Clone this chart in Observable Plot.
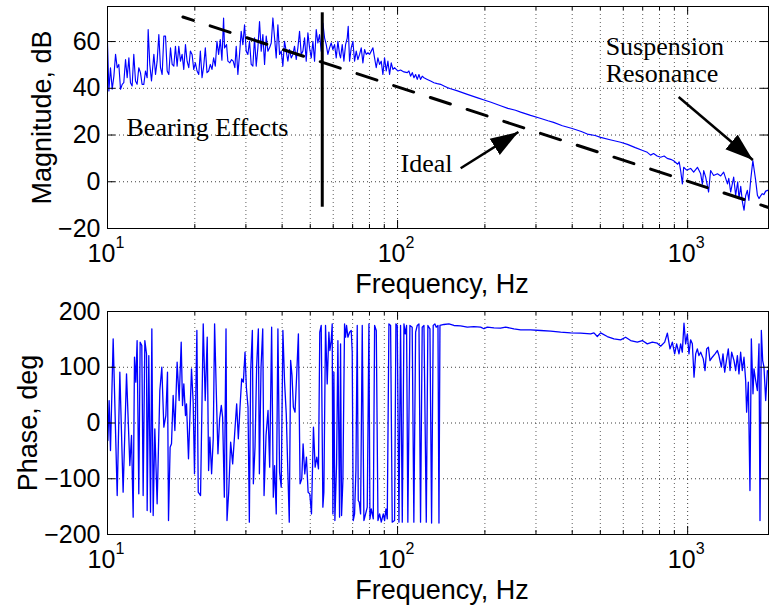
<!DOCTYPE html>
<html>
<head>
<meta charset="utf-8">
<script src="https://cdn.jsdelivr.net/npm/d3@7"></script>
<script src="https://cdn.jsdelivr.net/npm/@observablehq/plot@0.6"></script>
<style>
  html, body { margin: 0; padding: 0; background: #fff; }
  #chart { width: 769px; height: 607px; overflow: hidden; }
  #chart svg { display: block; }
</style>
</head>
<body>
<div id="chart"></div>
<script>
// ---------- axes / ticks ----------
const decadeTicks = [10, 100, 1000];
const decadeExp = ["1", "2", "3"];
const minorTicks = [20, 30, 40, 50, 60, 70, 80, 90, 200, 300, 400, 500, 600, 700, 800, 900];
const magTicks = [-20, 0, 20, 40, 60];
const phaseTicks = [-200, -100, 0, 100, 200];
const freqDomain = [10, 1900];
const magDomain = [-20, 75];
const phaseDomain = [-200, 200];

// ---------- magnitude (Hz, dB) ----------
const magnitude = [
[10.0,59.5],[10.11,38.9],[10.24,48.8],[10.38,39.6],[10.52,45.2],[10.66,54.5],[10.80,48.8],[10.94,50.2],[11.09,39.6],[11.24,41.7],
[11.38,42.4],[11.54,52.3],[11.69,44.5],[11.85,53.0],[12.00,42.4],[12.16,41.0],[12.32,54.5],[12.49,43.1],[12.65,41.7],[12.82,48.8],
[12.99,46.7],[13.16,41.7],[13.34,41.7],[13.52,47.4],[13.70,44.5],[13.81,65.1],[13.99,50.2],[14.18,43.1],[14.45,54.5],[14.64,45.9],
[14.83,51.6],[15.03,63.0],[15.23,48.8],[15.43,45.9],[15.64,62.3],[15.85,62.3],[16.06,47.4],[16.27,45.9],[16.49,57.3],[16.71,50.2],
[16.93,49.5],[17.15,58.0],[17.38,49.5],[17.61,58.0],[17.85,51.6],[18.08,54.5],[18.32,48.1],[18.57,58.7],[18.81,51.6],[19.06,48.8],
[19.31,55.9],[19.57,54.5],[19.83,48.1],[20.09,50.9],[20.36,47.4],[20.63,45.9],[20.90,55.9],[21.18,44.5],[21.46,49.5],[21.74,57.3],
[22.03,46.7],[22.32,47.4],[22.62,50.2],[22.92,48.1],[23.22,53.0],[23.53,49.5],[23.84,60.1],[24.16,54.5],[24.48,60.8],[24.80,52.0],
[25.13,70.1],[25.32,57.3],[25.73,58.7],[26.0,51.6],[26.41,50.9],[26.77,52.3],[27.12,51.6],[27.48,48.8],[27.78,58.0],[28.15,45.9],
[28.52,54.5],[28.90,64.4],[29.29,58.7],[29.68,67.2],[30.07,55.9],[30.47,54.5],[30.88,60.1],[31.29,50.2],[31.71,49.5],[32.13,61.6],
[32.56,49.5],[32.99,57.3],[33.43,68.6],[33.88,55.9],[34.33,63.0],[34.79,50.2],[35.25,62.3],[35.72,55.9],[36.20,57.3],[36.68,59.4],
[37.17,70.1],[37.66,61.6],[38.16,53.0],[38.67,67.2],[39.19,54.5],[39.71,55.9],[40.23,49.5],[40.77,60.1],[41.31,55.9],[41.86,51.6],
[42.42,56.6],[42.99,53.0],[43.56,54.5],[44.14,58.0],[44.73,52.3],[45.32,57.3],[45.93,64.4],[46.54,54.5],[47.16,55.9],[47.79,61.6],
[48.43,51.6],[49.07,63.7],[49.73,57.3],[50.39,53.0],[51.06,60.1],[51.74,51.6],[52.43,65.1],[53.12,59.4],[53.83,63.0],[54.55,55.9],
[55.27,67.9],[56.01,61.6],[56.76,58.7],[57.51,54.5],[58.28,57.3],[59.05,59.4],[59.84,56.6],[60.64,58.7],[61.45,53.0],[62.27,60.1],
[63.10,54.5],[63.6,53.0],[64.45,58.7],[65.31,51.6],[66.18,58.7],[67.06,61.5],[67.59,66.5],[68.31,51.6],[69.22,57.3],[70.14,60.1],
[71.08,51.6],[72.02,55.9],[72.98,52.3],[73.96,54.5],[74.94,57.3],[75.94,50.9],[76.96,56.6],[77.98,54.5],[79.02,55.2],[80.07,54.5],
[81.14,55.9],[82.22,57.3],[83.31,53.0],[84.42,48.8],[85.54,53.0],[86.68,50.2],[87.83,51.6],[89.0,45.9],[90.19,53.0],[91.39,47.4],
[92.61,51.6],[93.85,45.9],[95.1,50.9],[96.37,48.1],[97.65,48.8],[98.95,48.1],[100.3,47.4],[102.4,47.8],[105.2,47.0],[108.0,46.7],
[109.4,47.4],[110.9,45.2],[112.4,46.7],[113.9,44.5],[115.4,45.9],[116.9,43.8],[118.5,45.9],[120.0,43.8],[121.6,45.2],[123.3,44.5],
[126.6,43.8],[130.0,43.1],[133.5,42.4],[137.0,42.0],[140.7,41.7],[144.5,41.0],[148.4,40.3],[152.3,39.8],[160,39.0],[174,37.4],
[190,35.8],[200,34.9],[210,34.0],[226.5,32.5],[240,31.4],[255,30.6],[265.6,29.8],[287.4,28.4],[310,27.2],[330,26.1],
[345,25.4],[370,24.0],[400,22.8],[430,21.5],[451,20.4],[480,19.8],[501,19.0],[540,18.0],[587.5,16.9],[620,16.0],
[660,14.6],[700,13.4],[726,12.6],[745,11.4],[763,12.1],[785,11.0],[807,10.5],[830,11.0],[850,10.0],[874,9.6],
[895,9.0],[924,7.5],[935,8.5],[946,4.8],[959,-0.9],[969,6.2],[992,5.0],[1024,5.7],[1049,4.1],[1081,6.2],
[1109,3.4],[1124,-1.0],[1136,4.8],[1154,2.0],[1181,-4.4],[1200,4.8],[1229,2.7],[1267,3.4],[1300,2.5],[1331,4.1],
[1372,-0.9],[1386,1.5],[1407,-4.4],[1441,2.0],[1464,-5.8],[1488,0.0],[1503,-7.2],[1524,-2.0],[1545,-8.7],[1565,-12.2],
[1585,-6.0],[1606,-3.7],[1626,-8.0],[1649,0.6],[1678,9.1],[1716,0.6],[1740,-5.8],[1762,-7.2],[1785,-6.0],[1808,-5.1],
[1831,-5.5],[1858,-4.0],[1888,-3.7],[1900,-3.5]
];

// ---------- phase (Hz, deg) ----------
const phase = [
[10.0,-1.5],[10.03,-31.4],[10.13,40.3],[10.24,-49.4],[10.46,150.9],[10.80,-130.1],[11.03,91.2],[11.32,-124.1],[11.63,88.2],[11.94,-76.3],
[12.10,-22.4],[12.26,-169],[12.39,118.1],[12.52,73.2],[12.65,147.9],[12.82,-127.1],[12.96,145],[13.13,139],[13.27,-130.1],[13.45,147.9],
[13.63,124],[13.70,-157],[13.88,121],[14.07,-160],[14.22,168.9],[14.37,-166],[14.56,-10.5],[14.83,-145],[15.15,58.3],[15.39,100.1],
[15.64,-7.5],[15.89,13.4],[16.10,91.2],[16.23,-174.9],[16.44,-43.4],[16.62,-37.4],[16.84,49.3],[17.07,-13.5],[17.38,109.1],[17.66,40.3],
[17.95,145],[18.14,31.4],[18.33,70.2],[18.57,13.4],[18.72,34.4],[19.02,-64.3],[19.48,97.1],[19.74,37.3],[19.95,-91.2],[20.33,165.9],
[20.55,-124.1],[20.93,-130.1],[21.38,177.8],[21.72,40.3],[22.07,153.9],[22.31,-85.2],[22.54,-25.4],[22.85,-91.2],[23.15,-28.4],[23.40,177.8],
[23.71,58.3],[24.03,-55.3],[24.35,7.4],[24.68,31.4],[24.94,10.4],[25.28,-133.1],[25.62,168.9],[25.82,-174.9],[26.17,-124.1],[26.58,-34.4],
[27.01,-73.3],[27.44,-19.5],[27.88,34.4],[28.25,-28.4],[28.63,28.4],[29.01,79.2],[29.40,73.2],[29.79,127],[30.11,64.2],[30.51,28.4],
[30.83,-177.9],[31.16,94.1],[31.58,165.9],[31.83,-109.1],[32.25,-43.4],[32.68,103.1],[33.12,168.9],[33.39,-91.2],[33.83,100.1],[34.29,168.9],
[34.65,-130.1],[35.20,-22.4],[35.76,22.4],[36.23,-79.3],[36.80,171.9],[37.29,-133.1],[37.68,-76.3],[38.17,-163],[38.68,168.9],[39.19,-88.2],
[39.71,-115.1],[40.24,165.9],[40.78,73.2],[41.33,16.4],[41.77,-70.3],[42.33,-177.9],[42.79,112.1],[43.26,85.2],[43.73,28.4],[44.31,19.4],
[44.91,88.2],[45.51,159.9],[46.12,-109.1],[46.74,-100.2],[47.24,-37.4],[47.87,-91.2],[48.51,-61.3],[49.16,-124.1],[49.82,-127.1],[50.49,-163],
[51.29,-7.5],[51.98,-79.3],[52.67,-61.3],[53.38,-82.2],[53.93,162.9],[54.55,174.9],[55.27,-151],[55.71,-124.1],[56.45,174.9],[57.2,70.2],
[57.97,162.9],[58.43,130],[59.05,147.9],[59.52,177.8],[59.84,-163],[60.32,91.2],[60.8,-174.9],[61.62,-73.3],[62.27,147.9],[63.1,-169],
[63.6,142],[64.11,-166],[64.79,-103.2],[65.65,177.8],[66.18,153.9],[66.71,174.9],[67.42,153.9],[68.31,162.9],[69.22,165.9],[69.77,127],
[70.33,-174.9],[71.08,-163],[71.84,-85.2],[72.6,174.9],[73.19,-139],[73.77,-142],[74.56,-163],[75.55,174.9],[76.55,-174.9],[77.58,-163],
[78.61,-151],[79.66,177.8],[80.3,-171.9],[81.16,-154],[82.46,-171.9],[83.34,174.9],[84.45,165.9],[85.58,-174.9],[86.71,-163],[87.87,-177.9],
[89.28,-163],[90.22,-174.9],[91.18,-154],[92.15,-171.9],[93.36,177.8],[94.61,174.9],[95.85,-177.9],[97.65,-174.9],[98.69,177.8],[99.75,174.9],
[101.1,-177.9],[102.4,174.9],[103.8,-177.9],[105.2,177.8],[106.3,159.9],[107.4,174.9],[108.5,-177.9],[110.3,174.9],[112.3,171.9],[113.8,-177.9],
[115.4,162.9],[116.9,174.9],[118.5,177.8],[120.0,-177.9],[121.6,171.9],[123.3,174.9],[125.6,-177.9],[127.2,174.9],[129.3,168.9],[131.0,-179.5],
[132.7,174.9],[134.5,177.8],[135.9,171.9],[137.8,174.9],[138.9,-179.5],[140.0,174.9],[144.5,176.7],[150.3,177.8],[156.4,174.9],[164.9,174.3],
[173.9,172],[183.3,173],[193.3,172],[198.5,169],[203.8,172],[214.9,170.7],[226.6,170],[235.7,172],[251.8,169],[265.6,167],
[287.4,167.1],[311.2,165.9],[337,164.7],[364.9,162.9],[395.1,161.7],[427.6,161.1],[463,159.9],[475.3,161.7],[488.1,155.1],[501.2,161.7],
[528.4,155.1],[557.1,150.9],[587.5,149.1],[611.2,153.9],[636,147.9],[670.6,145],[697.8,147.9],[726,142],[755.5,145],[786.1,143.2],
[807.2,137.8],[833.4,145],[851.2,161.1],[869.4,133],[885.6,145],[902.2,124],[916.6,142],[933.6,124],[946.1,142],[958.5,127],
[971.4,179],[984.2,142],[997.5,159.9],[1010.6,124],[1024,149.1],[1038,142],[1052,82.2],[1066,124],[1080,133],[1094,121],
[1109,127],[1132,115],[1148,94.1],[1163,133],[1179,136],[1194,112],[1216,118],[1243,124],[1266,130],[1282,121],
[1307,100.1],[1324,124],[1342,91.2],[1363,115],[1381,133],[1400,94.1],[1418,127],[1445,112],[1464,94.1],[1484,121],
[1503,88.2],[1523,127],[1543,94.1],[1564,118],[1585,76.2],[1597,19.4],[1619,73.2],[1640,-121.1],[1658,150.9],[1680,52.3],
[1693,97.1],[1716,76.2],[1739,58.3],[1762,142],[1776,-174.9],[1795,165.9],[1814,112],[1833,100.1],[1858,40.3],[1883,94.1],
[1900,91.2]
];

// ---------- overlays on the magnitude panel ----------
const idealLine = [[18.2, 70.5], [1900, -11.0]];          // -40 dB/decade
const bearingLine = [{freq: 55, from: -10.9, to: 72.3}];
const arrows = [
  {f1: 165, d1: 5.8, f2: 261, d2: 21.3},     // Ideal
  {f1: 931, d1: 36.3, f2: 1678, d2: 9.3}     // Suspension resonance
];
const notes = [
  {text: "Bearing Effects", f: 11.63, db: 19.6},
  {text: "Ideal", f: 102.4, db: 4.3},
  {text: "Suspension\nResonance", f: 521.5, db: 42.8}
];

// ---------- helpers ----------
const W = 769, ML = 107, MR = 1;
const PW = W - ML - MR;
const SANS = "'Liberation Sans', Arial, Helvetica, sans-serif";
const SERIF = "'Liberation Serif', 'Times New Roman', serif";
const BLUE = "#0000ff";

function arrowHead(color) {
  const ns = "http://www.w3.org/2000/svg";
  const m = document.createElementNS(ns, "marker");
  m.setAttribute("viewBox", "-28 -10 28 20");
  m.setAttribute("refX", "0");
  m.setAttribute("refY", "0");
  m.setAttribute("markerWidth", "28");
  m.setAttribute("markerHeight", "20");
  m.setAttribute("markerUnits", "userSpaceOnUse");
  m.setAttribute("orient", "auto");
  const p = document.createElementNS(ns, "path");
  p.setAttribute("d", "M-28,-9.5L0,0L-28,9.5Z");
  p.setAttribute("fill", "black");
  p.setAttribute("stroke", "none");
  m.appendChild(p);
  return m;
}

function frameMarks(PH, yTicks, yGrid, yLabel, yLabelDx) {
  const dot = {stroke: "#000", strokeWidth: 0.9, strokeDasharray: "1,3"};
  return {
    back: [
      Plot.gridX(minorTicks, {...dot, strokeOpacity: 0.7}),
      Plot.gridX(decadeTicks, {...dot, strokeOpacity: 0.85}),
      Plot.gridY(yGrid, {...dot, strokeOpacity: 0.85})
    ],
    front: [
      Plot.frame({stroke: "black", strokeWidth: 1}),
      Plot.ruleX(decadeTicks, {insetTop: PH - 8, stroke: "black"}),
      Plot.ruleX(decadeTicks, {insetBottom: PH - 8, stroke: "black"}),
      Plot.ruleX(minorTicks, {insetTop: PH - 4, stroke: "black"}),
      Plot.ruleX(minorTicks, {insetBottom: PH - 4, stroke: "black"}),
      Plot.ruleY(yTicks, {insetRight: PW - 8, stroke: "black"}),
      Plot.ruleY(yTicks, {insetLeft: PW - 8, stroke: "black"}),
      Plot.axisY(yTicks, {tickSize: 0, tickPadding: 7, label: null, fontSize: 25}),
      Plot.text(decadeTicks, {x: d => d, frameAnchor: "bottom", text: () => "10",
        dx: -6, dy: 33, lineAnchor: "bottom", textAnchor: "middle", fontSize: 25}),
      Plot.text(decadeTicks, {x: d => d, frameAnchor: "bottom", text: (d, i) => decadeExp[i],
        dx: 8, dy: 19, lineAnchor: "bottom", textAnchor: "start", fontSize: 16}),
      Plot.text(["Frequency, Hz"], {text: d => d, frameAnchor: "bottom", dx: 4, dy: 64,
        lineAnchor: "bottom", textAnchor: "middle", fontSize: 27}),
      Plot.text([yLabel], {text: d => d, frameAnchor: "left", rotate: -90, dx: yLabelDx,
        lineAnchor: "bottom", textAnchor: "middle", fontSize: 27})
    ]
  };
}

// ---------- magnitude panel ----------
const H1 = 300, MT1 = 6, MB1 = 72, PH1 = H1 - MT1 - MB1;
const fm1 = frameMarks(PH1, magTicks, [0, 20, 40, 60], "Magnitude, dB", -57);
const magPlot = Plot.plot({
  width: W, height: H1, marginTop: MT1, marginBottom: MB1, marginLeft: ML, marginRight: MR,
  style: {fontFamily: SANS, fontSize: "25px", background: "white", color: "black", display: "block", overflow: "visible"},
  x: {type: "log", domain: freqDomain, axis: null},
  y: {domain: magDomain},
  marks: [
    ...fm1.back,
    Plot.line(magnitude, {x: d => d[0], y: d => d[1], stroke: BLUE, strokeWidth: 1.15, clip: true}),
    Plot.line(idealLine, {x: d => d[0], y: d => d[1], stroke: "black", strokeWidth: 3,
      strokeDasharray: "21,17.6", strokeDashoffset: 10}),
    Plot.ruleX(bearingLine, {x: "freq", y1: "from", y2: "to", stroke: "black", strokeWidth: 3}),
    Plot.link(arrows, {x1: "f1", y1: "d1", x2: "f2", y2: "d2", stroke: "black", strokeWidth: 2.5,
      markerEnd: arrowHead}),
    Plot.text(notes, {x: "f", y: "db", text: "text", textAnchor: "start", lineAnchor: "bottom",
      lineHeight: 1.02, fontFamily: SERIF, fontSize: 26, fill: "black"}),
    ...fm1.front
  ]
});

// ---------- phase panel ----------
const H2 = 307, MT2 = 11, MB2 = 73, PH2 = H2 - MT2 - MB2;
const fm2 = frameMarks(PH2, phaseTicks, [-100, 0, 100], "Phase, deg", -71);
const phasePlot = Plot.plot({
  width: W, height: H2, marginTop: MT2, marginBottom: MB2, marginLeft: ML, marginRight: MR,
  style: {fontFamily: SANS, fontSize: "25px", background: "white", color: "black", display: "block", overflow: "visible"},
  x: {type: "log", domain: freqDomain, axis: null},
  y: {domain: phaseDomain},
  marks: [
    ...fm2.back,
    Plot.line(phase, {x: d => d[0], y: d => d[1], stroke: BLUE, strokeWidth: 1.3, clip: true}),
    ...fm2.front
  ]
});

const chart = document.getElementById("chart");
chart.appendChild(magPlot);
chart.appendChild(phasePlot);
</script>
</body>
</html>
